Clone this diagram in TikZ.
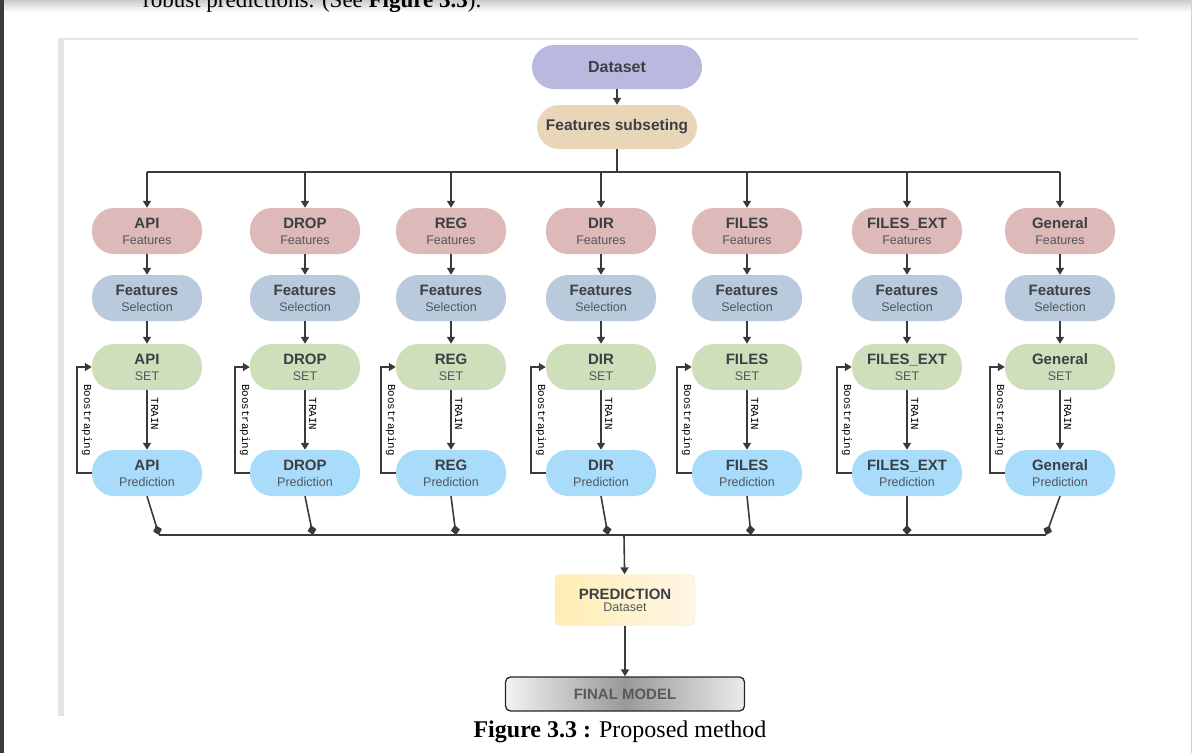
\documentclass[tikz,border=0pt]{standalone}
\usepackage{fontspec}
\setmainfont{Liberation Serif}
\setsansfont{Liberation Sans}
\setmonofont{Liberation Mono}
\usetikzlibrary{arrows.meta}

\definecolor{linec}{HTML}{3A3A3A}
\definecolor{maintxt}{HTML}{3B4045}
\definecolor{subtxt}{HTML}{50565C}
\definecolor{dsetc}{HTML}{B9B8DE}
\definecolor{fsubc}{HTML}{E9D6B9}
\definecolor{featc}{HTML}{DEB9BA}
\definecolor{selc}{HTML}{B9CADD}
\definecolor{setc}{HTML}{CFDFBC}
\definecolor{predc}{HTML}{A9DCFB}
\definecolor{framec}{HTML}{E4E4EA}
\definecolor{stripc}{HTML}{3C3C3C}

\newcommand\boxlbl[2]{{\fontsize{15}{17}\selectfont\bfseries #1}\\{\color{subtxt}\fontsize{12.5}{15}\selectfont #2}}

\begin{document}
\begin{tikzpicture}[x=1pt,y=-1pt,
  pill/.style={rounded corners=22pt, minimum width=110pt, minimum height=46pt, inner sep=0pt,
    align=center, text=maintxt, font=\sffamily\fontsize{12}{16}\selectfont},
  flow/.style={draw=linec, line width=1.6pt, -{Triangle[length=7pt,width=8pt]}},
  wire/.style={draw=linec, line width=1.6pt},
  tiplink/.style={draw=linec, line width=1.6pt, -{Diamond[length=10pt,width=9pt]}},
  sidelbl/.style={rotate=-90, inner sep=1pt, text=black, font=\ttfamily\fontsize{10.8}{12}\selectfont}]
\useasboundingbox (0,0) rectangle (1192,753);

% page around the figure
\shade[top color=black!20, bottom color=white] (0,0) rectangle (1192,12);
\node[anchor=base west, inner sep=0pt, font=\fontsize{23}{26}\selectfont] (prevtext) at (143,7)
  {robust predictions. (See \textbf{Figure 3.3}).};
\fill[stripc] (0,0) rectangle (3.5,753);
\draw[gray!35] (1191.5,0) -- (1191.5,753);
\fill[framec] (58,38) rectangle (64,716);
\fill[framec] (58,38) rectangle (1138,40);

% top
\node[pill, fill=dsetc, minimum width=170pt, minimum height=44pt, font=\sffamily\bfseries\fontsize{16}{18}\selectfont] (dset) at (617,67) {Dataset};
\node[pill, fill=fsubc, minimum width=160pt, minimum height=44pt, font=\sffamily\bfseries\fontsize{15.5}{18}\selectfont] (fsub) at (617,127) {Features subseting};
\draw[flow] (dset) -- (fsub);
\coordinate (busL) at (147,172);
\coordinate (busR) at (1060,172);
\draw[wire] (fsub.south) -- (fsub.south |- busL);
\draw[wire] (busL) -- (busR);

% columns
\foreach \key/\x/\name/\bx in {api/147/API/159, drop/305/DROP/313, reg/451/REG/456, dir/601/DIR/608,
    files/747/FILES/751, fext/907/FILES\_EXT/907, gen/1060/General/1046} {
  \node[pill, fill=featc] (\key-feat) at (\x,231) {\boxlbl{\name}{Features}};
  \node[pill, fill=selc] (\key-sel) at (\x,298) {\boxlbl{Features}{Selection}};
  \node[pill, fill=setc] (\key-set) at (\x,367) {\boxlbl{\name}{SET}};
  \node[pill, fill=predc] (\key-pred) at (\x,473) {\boxlbl{\name}{Prediction}};
  \coordinate (\key-top) at (\x,172);
  \coordinate (\key-bot) at (\bx,535);
  \draw[flow] (\key-top) -- (\key-feat);
  \draw[flow] (\key-feat) -- (\key-sel);
  \draw[flow] (\key-sel) -- (\key-set);
  \draw[flow] (\key-set) -- (\key-pred);
  \node[sidelbl, anchor=south] (\key-train) at (\x+3,414) {TRAIN};
  \draw[flow] (\key-pred.west) -- ++(-15,0) |- (\key-set.west);
  \node[sidelbl] (\key-boot) at (\x-60,420) {Boostraping};
  \draw[tiplink] (\key-pred.south) -- (\key-bot);
}

% bottom
\coordinate (sinkL) at (159,535);
\coordinate (sinkR) at (1046,535);
\coordinate (sinkM) at (624,535);
\draw[wire] (sinkL) -- (sinkR);
\node[rounded corners=5pt, draw=yellow!30!orange!25, left color=yellow!55!orange!30, right color=yellow!25!orange!10,
  minimum width=140pt, minimum height=51pt, align=center, text=maintxt, font=\sffamily]
  (predset) at (625,600) {{\fontsize{15}{17}\selectfont\bfseries PREDICTION}\\{\color{subtxt}\fontsize{12.5}{16}\selectfont Dataset}};
\node[rounded corners=5pt, draw=black!85, line width=1.3pt, left color=black!5, right color=black!8, middle color=black!40,
  minimum width=239pt, minimum height=34pt, text=black!65, font=\sffamily\bfseries\fontsize{15}{17}\selectfont]
  (final) at (625,694) {FINAL MODEL};
\draw[flow] (sinkM) -- (predset);
\draw[flow] (predset) -- (final);

\node[font=\fontsize{24}{28}\selectfont, inner sep=0pt] (caption) at (620,732) {\textbf{Figure 3.3 :} Proposed method};
\end{tikzpicture}
\end{document}
